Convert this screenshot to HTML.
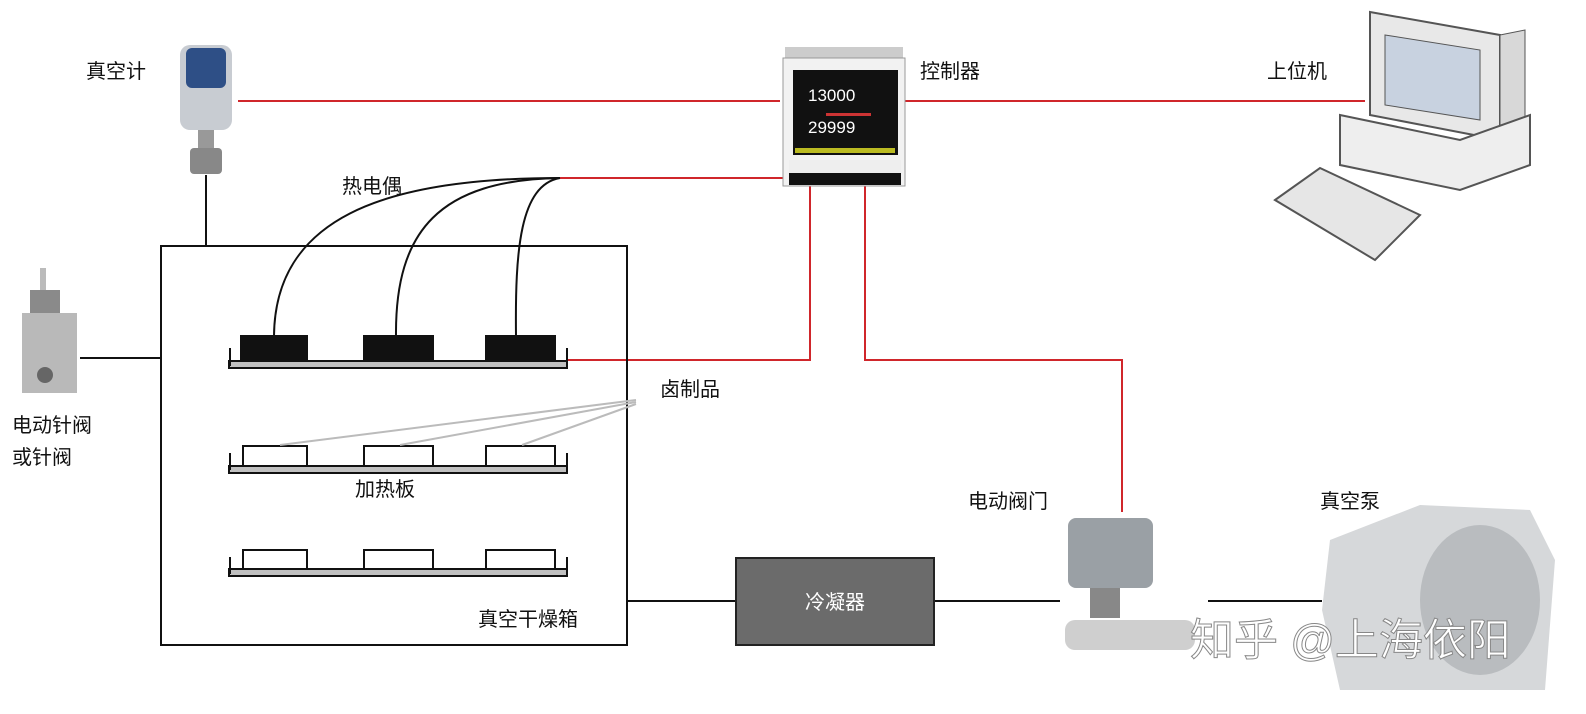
<!DOCTYPE html>
<html><head><meta charset="utf-8"><style>
body{margin:0;background:#fff}
svg{display:block}
text{font-family:"Liberation Sans","Noto Sans CJK SC",sans-serif;fill:#111}
</style></head><body>
<svg width="1586" height="714" viewBox="0 0 1586 714" xmlns="http://www.w3.org/2000/svg">
<!-- red lines -->
<g stroke="#d0262b" stroke-width="2" fill="none">
<line x1="238" y1="101" x2="780" y2="101"/>
<line x1="905" y1="101" x2="1365" y2="101"/>
<line x1="560" y1="178" x2="785" y2="178"/>
<polyline points="568,360 810,360 810,185"/>
<polyline points="865,185 865,360 1122,360 1122,512"/>
</g>
<!-- black connectors -->
<g stroke="#111" stroke-width="2" fill="none">
<line x1="206" y1="175" x2="206" y2="246"/>
<line x1="80" y1="358" x2="162" y2="358"/>
<line x1="628" y1="601" x2="736" y2="601"/>
<line x1="934" y1="601" x2="1060" y2="601"/>
<line x1="1208" y1="601" x2="1322" y2="601"/>
<path d="M560,178 C380,178 275,220 274,336"/>
<path d="M560,178 C440,180 395,230 396,336"/>
<path d="M560,178 C520,185 515,250 516,336"/>
</g>
<rect x="161" y="246" width="466" height="399" fill="none" stroke="#111" stroke-width="2"/>
<!-- trays -->
<g stroke="#111" stroke-width="2">
<rect x="241" y="336" width="66" height="25" fill="#111"/>
<rect x="364" y="336" width="69" height="25" fill="#111"/>
<rect x="486" y="336" width="69" height="25" fill="#111"/>
<rect x="229" y="361" width="338" height="7" fill="#c0c0c0"/>
<line x1="230" y1="348" x2="230" y2="366"/><line x1="567" y1="348" x2="567" y2="366"/>

<rect x="243" y="446" width="64" height="20" fill="#fff"/>
<rect x="364" y="446" width="69" height="20" fill="#fff"/>
<rect x="486" y="446" width="69" height="20" fill="#fff"/>
<rect x="229" y="466" width="338" height="7" fill="#c0c0c0"/>
<line x1="230" y1="453" x2="230" y2="470"/><line x1="567" y1="453" x2="567" y2="470"/>

<rect x="243" y="550" width="64" height="19" fill="#fff"/>
<rect x="364" y="550" width="69" height="19" fill="#fff"/>
<rect x="486" y="550" width="69" height="19" fill="#fff"/>
<rect x="229" y="569" width="338" height="7" fill="#c0c0c0"/>
<line x1="230" y1="557" x2="230" y2="574"/><line x1="567" y1="557" x2="567" y2="574"/>
</g>
<g stroke="#bbb" stroke-width="2">
<line x1="280" y1="445" x2="636" y2="400"/>
<line x1="400" y1="445" x2="636" y2="402"/>
<line x1="522" y1="445" x2="636" y2="404"/>
</g>
<!-- condenser -->
<rect x="736" y="558" width="198" height="87" fill="#6b6b6b" stroke="#222" stroke-width="2"/>
<text x="835" y="609" font-size="20" fill="#fff" style="fill:#fff" text-anchor="middle">冷凝器</text>
<!-- labels -->
<g font-size="20">
<text x="86" y="78">真空计</text>
<text x="920" y="78">控制器</text>
<text x="1267" y="78">上位机</text>
<text x="342" y="193">热电偶</text>
<text x="660" y="396">卤制品</text>
<text x="355" y="496">加热板</text>
<text x="12" y="432">电动针阀</text>
<text x="12" y="464">或针阀</text>
<text x="478" y="626">真空干燥箱</text>
<text x="968" y="508">电动阀门</text>
<text x="1320" y="508">真空泵</text>
</g>
<!-- vacuum gauge -->
<rect x="180" y="45" width="52" height="85" rx="10" fill="#c8ccd2"/>
<rect x="186" y="48" width="40" height="40" rx="6" fill="#2e4f86"/>
<rect x="198" y="130" width="16" height="18" fill="#999"/>
<rect x="190" y="148" width="32" height="26" rx="4" fill="#888"/>
<!-- needle valve -->
<rect x="40" y="268" width="6" height="30" fill="#bbb"/>
<rect x="30" y="290" width="30" height="25" fill="#8a8a8a"/>
<rect x="22" y="313" width="55" height="80" fill="#b9b9b9"/>
<circle cx="45" cy="375" r="8" fill="#666"/>
<!-- controller -->
<rect x="785" y="47" width="118" height="14" fill="#ccc"/>
<rect x="783" y="58" width="122" height="128" fill="#f2f2f2" stroke="#999"/>
<rect x="793" y="70" width="105" height="85" fill="#111"/>
<text x="808" y="101" font-size="17" style="fill:#fff">13000</text>
<text x="808" y="133" font-size="17" style="fill:#fff">29999</text>
<rect x="826" y="113" width="45" height="3" fill="#c33"/>
<rect x="795" y="148" width="100" height="5" fill="#bb2"/>
<rect x="789" y="160" width="112" height="13" fill="#eee"/>
<rect x="789" y="173" width="112" height="12" fill="#111"/>
<!-- computer -->
<path d="M1370,12 L1500,35 L1500,140 L1370,115 Z" fill="#e8e8e8" stroke="#555" stroke-width="2"/>
<path d="M1385,35 L1480,50 L1480,120 L1385,105 Z" fill="#c8d2e0" stroke="#555"/>
<path d="M1500,35 L1525,30 L1525,135 L1500,140 Z" fill="#d8d8d8" stroke="#555"/>
<path d="M1340,115 L1460,140 L1530,115 L1530,165 L1460,190 L1340,165 Z" fill="#eee" stroke="#555" stroke-width="2"/>
<path d="M1275,200 L1320,168 L1420,215 L1375,260 Z" fill="#e6e6e6" stroke="#555" stroke-width="2"/>
<!-- electric valve -->
<rect x="1068" y="518" width="85" height="70" rx="8" fill="#9aa0a5"/>
<rect x="1090" y="588" width="30" height="30" fill="#888"/>
<rect x="1065" y="620" width="130" height="30" rx="10" fill="#cfcfcf"/>
<!-- pump -->
<path d="M1330,540 L1420,505 L1530,510 L1555,560 L1545,690 L1340,690 L1322,610 Z" fill="#d6d8da"/>
<ellipse cx="1480" cy="600" rx="60" ry="75" fill="#b9bcbf"/>
<text x="1190" y="655" font-size="44" style="fill:#fff;stroke:#888;stroke-width:1">知乎 @上海依阳</text>
</svg>
</body></html>
